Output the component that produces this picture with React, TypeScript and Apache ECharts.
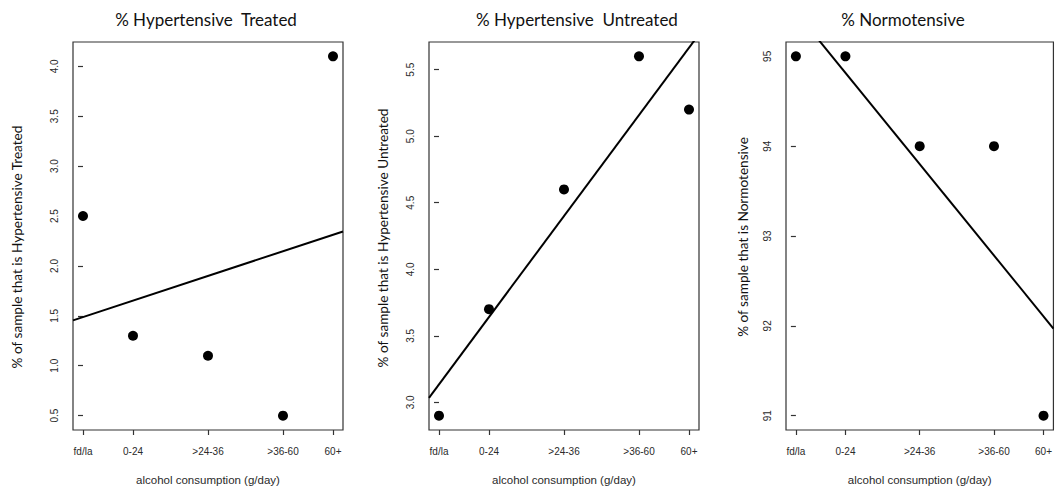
import React, { useEffect, useRef } from "react";
import * as echarts from "echarts";

// ---- data ----
const categoryLabels = ["fd/la", "0-24", ">24-36", ">36-60", "60+"];
const categoryPositions = [0, 12, 30, 48, 60]; // g/day positions on the x scale
const treatedValues = [2.5, 1.3, 1.1, 0.5, 4.1];
const untreatedValues = [2.9, 3.7, 4.6, 5.6, 5.2];
const normotensiveValues = [95, 95, 94, 94, 91];
const treatedFit = [[-2.4, 1.455], [62.4, 2.345]];
const untreatedFit = [[-2.4, 3.034], [62.4, 5.766]];
const normotensiveFit = [[-2.4, 95.63], [62.4, 91.97]];
const treatedTicks = [0.5, 1.0, 1.5, 2.0, 2.5, 3.0, 3.5, 4.0];
const untreatedTicks = [3.0, 3.5, 4.0, 4.5, 5.0, 5.5];
const normotensiveTicks = [91, 92, 93, 94, 95];
const panelTitles = ["% Hypertensive  Treated", "% Hypertensive  Untreated", "% Normotensive"];
const yTitles = [
  "% of sample that is Hypertensive Treated",
  "% of sample that is Hypertensive Untreated",
  "% of sample that is Normotensive",
];
const xTitle = "alcohol consumption (g/day)";

const xMin = -2.4;
const xMax = 62.4;

const panels = [
  { values: treatedValues, fit: treatedFit, ticks: treatedTicks, yMin: 0.356, yMax: 4.244, decimals: 1, left: 73, titleX: 206, yTitleX: 17, yTitleY: 247 },
  { values: untreatedValues, fit: untreatedFit, ticks: untreatedTicks, yMin: 2.792, yMax: 5.708, decimals: 1, left: 429, titleX: 577, yTitleX: 383, yTitleY: 238 },
  { values: normotensiveValues, fit: normotensiveFit, ticks: normotensiveTicks, yMin: 90.84, yMax: 95.16, decimals: 0, left: 786, titleX: 903, yTitleX: 743, yTitleY: 237 },
];

const TICK_FONT = "Liberation Sans, Arial, sans-serif";
const TITLE_FONT = "Lato, 'Open Sans', sans-serif";

function buildOption() {
  const grids = panels.map((p) => ({
    left: p.left,
    top: 42,
    width: 270,
    height: 394,
    show: true,
    borderColor: "#333",
    borderWidth: 1.2,
    backgroundColor: "transparent",
    containLabel: false,
  }));
  const xAxes = panels.map((p, i) => ({
    type: "value",
    gridIndex: i,
    min: xMin,
    max: xMax,
    name: xTitle,
    nameLocation: "middle",
    nameGap: 44,
    nameTextStyle: { fontFamily: TICK_FONT, fontSize: 11.5, color: "#2a2a2a" },
    axisLine: { show: false },
    splitLine: { show: false },
    axisTick: {
      show: true,
      inside: false,
      length: 5,
      customValues: categoryPositions,
      lineStyle: { color: "#333", width: 1.2 },
    },
    axisLabel: {
      show: true,
      margin: 16,
      customValues: categoryPositions,
      fontFamily: TICK_FONT,
      fontSize: 10,
      color: "#2a2a2a",
      formatter: (v: number) => {
        const idx = categoryPositions.indexOf(v);
        return idx >= 0 ? categoryLabels[idx] : "";
      },
    },
  }));
  const yAxes = panels.map((p, i) => ({
    type: "value",
    gridIndex: i,
    min: p.yMin,
    max: p.yMax,
    axisLine: { show: false },
    splitLine: { show: false },
    axisTick: {
      show: true,
      inside: false,
      length: 5,
      customValues: p.ticks,
      lineStyle: { color: "#333", width: 1.2 },
    },
    axisLabel: {
      show: true,
      rotate: 90,
      margin: 14,
      customValues: p.ticks,
      fontFamily: TICK_FONT,
      fontSize: 10,
      color: "#2a2a2a",
      formatter: (v: number) => v.toFixed(p.decimals),
    },
  }));
  const series: any[] = [];
  panels.forEach((p, i) => {
    series.push({
      type: "scatter",
      xAxisIndex: i,
      yAxisIndex: i,
      symbol: "circle",
      symbolSize: 10,
      itemStyle: { color: "#000", opacity: 1 },
      data: categoryPositions.map((x, k) => [x, p.values[k]]),
      z: 3,
    });
    series.push({
      type: "line",
      xAxisIndex: i,
      yAxisIndex: i,
      showSymbol: false,
      clip: true,
      lineStyle: { color: "#000", width: 2 },
      data: p.fit,
      z: 2,
    });
  });
  const graphics: any[] = [];
  panels.forEach((p, i) => {
    graphics.push({
      type: "text",
      x: p.titleX,
      y: 19,
      style: {
        text: panelTitles[i],
        font: `17px ${TITLE_FONT}`,
        fill: "#111",
        align: "center",
        verticalAlign: "middle",
        textAlign: "center",
        textVerticalAlign: "middle",
      },
    });
    graphics.push({
      type: "text",
      x: p.yTitleX,
      y: p.yTitleY,
      rotation: Math.PI / 2,
      style: {
        text: yTitles[i],
        font: `13.6px ${TITLE_FONT}`,
        fill: "#111",
        align: "center",
        verticalAlign: "middle",
        textAlign: "center",
        textVerticalAlign: "middle",
      },
    });
  });
  return {
    animation: false,
    backgroundColor: "#fff",
    grid: grids,
    xAxis: xAxes,
    yAxis: yAxes,
    series,
    graphic: graphics,
  };
}

export default function App() {
  const ref = useRef<HTMLDivElement>(null);
  useEffect(() => {
    if (!ref.current) return;
    const chart = echarts.init(ref.current, undefined, { renderer: "svg" });
    chart.setOption(buildOption() as any);
    return () => chart.dispose();
  }, []);
  return (
    <div
      ref={ref}
      style={{ position: "fixed", left: 0, top: 0, width: 1055, height: 491, background: "#fff" }}
    />
  );
}
